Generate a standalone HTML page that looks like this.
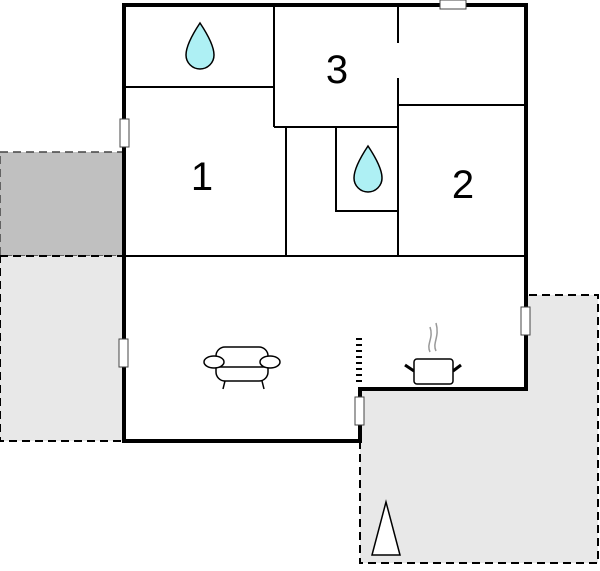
<!DOCTYPE html>
<html><head><style>body{margin:0;background:#fff}svg{display:block}</style></head><body>
<svg width="600" height="571" viewBox="0 0 600 571" xmlns="http://www.w3.org/2000/svg">
<rect x="0" y="152" width="123" height="104" fill="#c0c0c0" stroke="#444" stroke-width="1.5" stroke-dasharray="8,5"/>
<rect x="0" y="256" width="124" height="185" fill="#e8e8e8" stroke="#000" stroke-width="2" stroke-dasharray="8,5"/>
<path d="M360 389 L360 563 L598 563 L598 295 L526 295 L526 389 Z" fill="#e8e8e8" stroke="#000" stroke-width="2" stroke-dasharray="8,5"/>
<path d="M124 441 L124 5 L526 5 L526 389 L360 389 L360 441 Z" fill="#fff" stroke="none"/>
<g stroke="#000" stroke-width="2" fill="none">
<path d="M124 87 H274 M274 5 V127 M274 127 H398 M398 5 V43 M398 78 V256 M398 105 H526 M286 127 V256 M336 127 V211 H398 M124 256 H526"/>
</g>
<path d="M124 441 L124 5 L526 5 L526 389 L360 389 L360 441 Z" fill="none" stroke="#000" stroke-width="4"/>
<line x1="359" y1="338" x2="359" y2="384" stroke="#000" stroke-width="6" stroke-dasharray="2,4"/>
<g fill="#fff" stroke="#444" stroke-width="1">
<rect x="440" y="0" width="26" height="9"/>
<rect x="120" y="119" width="9" height="28"/>
<rect x="119" y="339" width="9" height="28"/>
<rect x="521" y="307" width="9" height="28"/>
<rect x="355" y="397" width="9" height="28"/>
</g>
<g font-family="Liberation Sans, sans-serif" font-size="40" text-anchor="middle" fill="#000">
<text x="202" y="190">1</text><text x="337" y="83">3</text><text x="463" y="198">2</text>
</g>
<g fill="#aef0f4" stroke="#000" stroke-width="1.5">
<path d="M200 23 C190 38 186 48 186 55 A14 14 0 0 0 214 55 C214 48 210 38 200 23 Z"/>
<path d="M368 146 C358 161 354 171 354 178 A14 14 0 0 0 382 178 C382 171 378 161 368 146 Z"/>
</g>
<g fill="#fff" stroke="#000" stroke-width="1.5">
<rect x="216" y="347" width="52" height="34" rx="9"/>
<line x1="216" y1="367" x2="268" y2="367"/>
<ellipse cx="214" cy="362" rx="10" ry="6"/>
<ellipse cx="270" cy="362" rx="10" ry="6"/>
<path d="M225 381 L223 389 M262 381 L264 389" fill="none"/>
</g>
<g stroke="#000" stroke-width="1.5" fill="#fff">
<path d="M405 365 L414 371 M461 365 L453 371" stroke-width="3"/>
<rect x="414" y="359" width="39" height="25" rx="3"/>
</g>
<path d="M430 352 C426 344 434 338 430 327 M436 351 C432 343 440 337 436 323" stroke="#999" stroke-width="1.5" fill="none"/>
<polygon points="386,502 372,555 400,555" fill="#fff" stroke="#000" stroke-width="1.5"/>
</svg>
</body></html>
